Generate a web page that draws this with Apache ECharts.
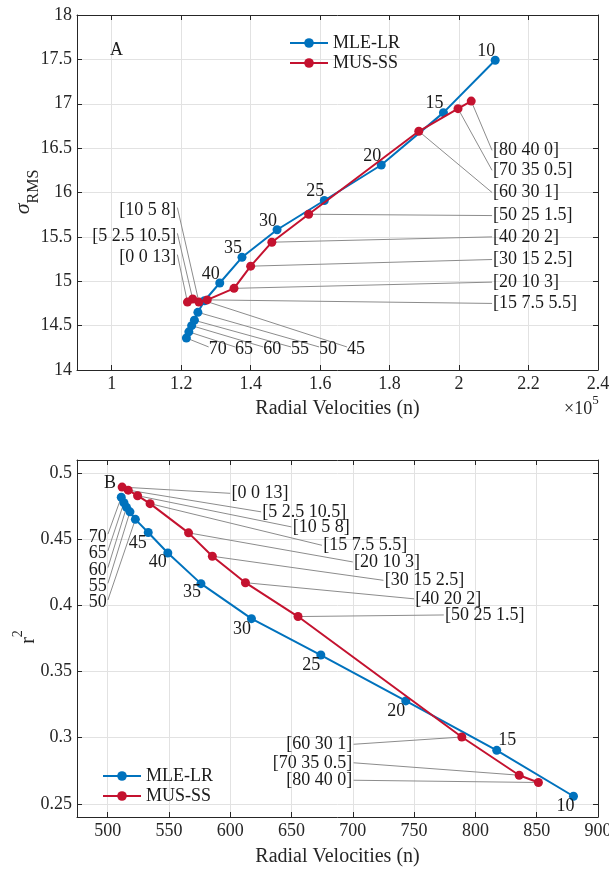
<!DOCTYPE html>
<html><head><meta charset="utf-8">
<script src="https://cdn.jsdelivr.net/npm/echarts@6/dist/echarts.min.js"></script>
<style>html,body{margin:0;padding:0;background:#fff}#c{width:609px;height:869px}</style>
</head><body><div id="c"></div>
<script>
const FONT = "'Liberation Serif', 'Times New Roman', serif";
const BLUE = '#0072BD';
const RED = '#C4122F';
const INK = '#262626';

// ---------- Data ----------
const mleLabels = ['10','15','20','25','30','35','40','45','50','55','60','65','70'];
const musLabels = ['[80 40 0]','[70 35 0.5]','[60 30 1]','[50 25 1.5]','[40 20 2]','[30 15 2.5]','[20 10 3]','[15 7.5 5.5]','[10 5 8]','[5 2.5 10.5]','[0 0 13]'];

// Panel A: sigma_RMS vs radial velocities (n)
const aMleX = [210400,195500,177600,161200,147600,137500,131100,126700,124800,123800,123000,122200,121500];
const aMleY = [17.49,16.90,16.31,15.91,15.58,15.27,14.98,14.78,14.65,14.56,14.50,14.43,14.36];
const aMusX = [203500,199700,188400,156700,146100,140000,135200,127500,125100,123300,121800];
const aMusY = [17.03,16.945,16.69,15.755,15.44,15.17,14.92,14.79,14.765,14.80,14.765];

// Panel B: r^2 vs radial velocities (n)
const bMleX = [880.0,817.4,743.2,673.9,617.3,576.1,549.1,533.1,522.6,518.2,515.4,513.3,511.1];
const bMleY = [0.2557,0.2904,0.3278,0.3625,0.3900,0.4165,0.4397,0.4552,0.4651,0.4708,0.4742,0.4777,0.4818];
const bMusX = [851.4,835.7,788.9,655.3,612.4,585.4,566.0,534.6,524.4,516.8,511.8];
const bMusY = [0.2661,0.2716,0.3005,0.3916,0.4172,0.4372,0.4549,0.4770,0.4830,0.4872,0.4895];

// Axis ranges
const aXRange = [90000, 240000];
const aYRange = [14, 18];
const bXRange = [475, 900];
const bYRange = [0.24, 0.51];

// Annotation anchors (data units)
const aRightTextX = 209800;
const aRightTextY = [16.475,16.25,16.0,15.74,15.5,15.245,14.99,14.75];
const aLeftTextX = 118600;
const aLeftTextY = [15.80,15.51,15.27];
const aNumTextX = [167700,159700,151600,143600,135500,127900]; // labels 45..70
const aNumTextY = 14.23;

const bRightTextX = [775.2,751,726,701,675.8,651,626.2,601];
const bRightTextY = [0.3928,0.405,0.419,0.4329,0.4455,0.4594,0.4708,0.4848];
const bLeftTextX = 699.6;
const bLeftTextY = [0.2678,0.281,0.295];
const bNumTextX = 499.2;
const bNumTextY = [0.4021,0.4147,0.4266,0.4393,0.4519]; // 50..70

// ---------- Build ----------
const pts = (xs, ys) => xs.map((x, i) => [x, ys[i]]);

function leaderSeries(xi, yi, segs) {
  return {
    type: 'custom', xAxisIndex: xi, yAxisIndex: yi, clip: false, silent: true, z: 1,
    data: segs,
    renderItem: (params, api) => {
      const p1 = api.coord([api.value(0), api.value(1)]);
      const p2 = api.coord([api.value(2), api.value(3)]);
      return { type: 'line', shape: {x1:p1[0], y1:p1[1], x2:p2[0], y2:p2[1]},
        style: { stroke: '#8c8c8c', lineWidth: 1 } };
    }
  };
}
function textSeries(xi, yi, items, align) {
  const texts = items.map(d => d[2]);
  return {
    type: 'custom', xAxisIndex: xi, yAxisIndex: yi, clip: false, silent: true, z: 5,
    data: items.map((d, i) => [d[0], d[1], i]),
    renderItem: (params, api) => {
      const p = api.coord([api.value(0), api.value(1)]);
      return { type: 'text', x: p[0], y: p[1],
        style: { text: texts[api.value(2)], fontFamily: FONT, fontSize: 18, fill: '#1a1a1a',
                 align: align, verticalAlign: 'middle' } };
    }
  };
}

const aSegs = [];
for (let i = 0; i < 8; i++) aSegs.push([aMusX[i], aMusY[i], aRightTextX - 300, aRightTextY[i]]);
for (let j = 0; j < 3; j++) aSegs.push([aMusX[8 + j], aMusY[8 + j], aLeftTextX + 300, aLeftTextY[j] + 0.03]);
for (let k = 0; k < 6; k++) aSegs.push([aMleX[7 + k], aMleY[7 + k], aNumTextX[k], aNumTextY + 0.03]);
const aTextR = aRightTextY.map((y, i) => [aRightTextX, y, musLabels[i]]);
const aTextL = aLeftTextY.map((y, j) => [aLeftTextX, y, musLabels[8 + j]]);
const aTextN = aNumTextX.map((x, k) => [x, aNumTextY, mleLabels[7 + k]]);
aTextN.push([99500, 17.60, 'A']);

const bSegs = [];
for (let i = 0; i < 8; i++) bSegs.push([bMusX[3 + i], bMusY[3 + i], bRightTextX[i] - 1, bRightTextY[i]]);
for (let j = 0; j < 3; j++) bSegs.push([bMusX[j], bMusY[j], bLeftTextX + 1, bLeftTextY[j]]);
for (let k = 0; k < 5; k++) bSegs.push([bMleX[8 + k], bMleY[8 + k], bNumTextX + 1, bNumTextY[k] + 0.002]);
const bTextR = bRightTextX.map((x, i) => [x, bRightTextY[i], musLabels[3 + i]]);
const bTextL = bLeftTextY.map((y, j) => [bLeftTextX, y, musLabels[j]]);
const bTextN = bNumTextY.map((y, k) => [bNumTextX, y, mleLabels[8 + k]]);
const bTextC = [[502, 0.4924, 'B']];

const aMleData = pts(aMleX, aMleY).map((v, i) => i < 7 ? {
  value: v, label: { show: true, formatter: mleLabels[i], position: 'inside', offset: [-9, -9],
    fontFamily: FONT, fontSize: 18, color: '#1a1a1a' } } : { value: v });
const bOffsets = [[-8,10.5],[10.5,-10],[-9.5,10.5],[-9.5,10.5],[-9.5,10.5],[-9,9],[-10,9],[-10.5,11]];
const bMleData = pts(bMleX, bMleY).map((v, i) => i < 8 ? {
  value: v, label: { show: true, formatter: mleLabels[i], position: 'inside', offset: bOffsets[i],
    fontFamily: FONT, fontSize: 18, color: '#1a1a1a' } } : { value: v });

function lineSeries(name, color, data, xi, yi, z) {
  return { name, type: 'line', xAxisIndex: xi, yAxisIndex: yi, data, z,
    symbol: 'circle', symbolSize: 9, showAllSymbol: true,
    itemStyle: { color }, lineStyle: { color, width: 2 }, emphasis: { disabled: true } };
}

const labelStyle = { fontFamily: FONT, fontSize: 18, color: INK };
function mainX(grid, range, splitNumber, fmt, gap) {
  return { gridIndex: grid, type: 'value', position: 'bottom', min: range[0], max: range[1], splitNumber,
    axisLine: { show: true, onZero: false, lineStyle: { color: INK, width: 1 } },
    axisTick: { show: true, inside: true, length: 5, lineStyle: { color: INK } },
    axisLabel: Object.assign({ show: true, showMinLabel: false, showMaxLabel: true, formatter: fmt, margin: 5 }, labelStyle),
    splitLine: { show: true, lineStyle: { color: '#e2e2e2', width: 1 } },
    name: 'Radial Velocities (n)', nameLocation: 'middle', nameGap: gap, nameMoveOverlap: false,
    nameTextStyle: { fontFamily: FONT, fontSize: 20, color: INK } };
}
function boxX(grid, range, splitNumber) {
  return { gridIndex: grid, type: 'value', position: 'top', min: range[0], max: range[1], splitNumber,
    axisLine: { show: true, onZero: false, lineStyle: { color: INK, width: 1 } },
    axisTick: { show: true, inside: true, length: 5, lineStyle: { color: INK } },
    axisLabel: { show: false }, splitLine: { show: false } };
}
function mainY(grid, range, opts) {
  return Object.assign({ gridIndex: grid, type: 'value', position: 'left', min: range[0], max: range[1],
    axisLine: { show: true, onZero: false, lineStyle: { color: INK, width: 1 } },
    axisTick: { show: true, inside: true, length: 5, lineStyle: { color: INK } },
    axisLabel: Object.assign({ show: true, margin: 5 }, labelStyle),
    splitLine: { show: true, lineStyle: { color: '#e2e2e2', width: 1 } } }, opts);
}
function boxY(grid, range, opts) {
  return Object.assign({ gridIndex: grid, type: 'value', position: 'right', min: range[0], max: range[1],
    axisLine: { show: true, onZero: false, lineStyle: { color: INK, width: 1 } },
    axisTick: { show: true, inside: true, length: 5, lineStyle: { color: INK } },
    axisLabel: { show: false }, splitLine: { show: false } }, opts);
}

const chart = echarts.init(document.getElementById('c'), null, { renderer: 'canvas' });
const option = {
  animation: false,
  backgroundColor: '#fff',
  textStyle: { fontFamily: FONT },
  grid: [
    { left: 77, top: 15, width: 521, height: 355, containLabel: false, outerBoundsMode: 'none' },
    { left: 77, top: 460, width: 521, height: 357, containLabel: false, outerBoundsMode: 'none' }
  ],
  legend: [
    { data: ['MLE-LR', 'MUS-SS'], orient: 'vertical', left: 284, top: 29, itemWidth: 38, itemHeight: 12,
      itemGap: 2, selectedMode: false, textStyle: { fontFamily: FONT, fontSize: 18, color: '#1a1a1a' } },
    { data: ['MLE-LR', 'MUS-SS'], orient: 'vertical', left: 97, top: 762, itemWidth: 38, itemHeight: 12,
      itemGap: 2, selectedMode: false, textStyle: { fontFamily: FONT, fontSize: 18, color: '#1a1a1a' } }
  ],
  xAxis: [
    mainX(0, aXRange, 7, v => String(+(v / 1e5).toFixed(2)), 29),
    boxX(0, aXRange, 7),
    mainX(1, bXRange, 8, v => String(v), 30),
    boxX(1, bXRange, 8)
  ],
  yAxis: [
    mainY(0, aYRange, { interval: 0.5 }),
    boxY(0, aYRange, { interval: 0.5 }),
    mainY(1, bYRange, { splitNumber: 5,
      axisLabel: Object.assign({ show: true, margin: 5, showMinLabel: false, showMaxLabel: false }, labelStyle) }),
    boxY(1, bYRange, { splitNumber: 5 })
  ],
  graphic: [
    { type: 'text', left: 564, top: 394, silent: true,
      style: { text: '{a|×10}{b|5}', rich: {
        a: { fontFamily: FONT, fontSize: 18, fill: INK, verticalAlign: 'bottom', lineHeight: 24 },
        b: { fontFamily: FONT, fontSize: 13, fill: INK, verticalAlign: 'top', lineHeight: 24 } } } },
    { type: 'text', x: 27, y: 192, rotation: Math.PI / 2, silent: true,
      style: { text: '{s|σ}{b|RMS}', align: 'center', verticalAlign: 'middle', rich: {
        s: { fontFamily: FONT, fontSize: 22, fontStyle: 'italic', fill: INK, verticalAlign: 'top', lineHeight: 30 },
        b: { fontFamily: FONT, fontSize: 16, fill: INK, verticalAlign: 'bottom', lineHeight: 30 } } } },
    { type: 'text', x: 25, y: 637, rotation: Math.PI / 2, silent: true,
      style: { text: '{r|r}{p|2}', align: 'center', verticalAlign: 'middle', rich: {
        r: { fontFamily: FONT, fontSize: 20, fill: INK, verticalAlign: 'bottom', lineHeight: 28 },
        p: { fontFamily: FONT, fontSize: 14, fill: INK, verticalAlign: 'top', lineHeight: 28 } } } }
  ],
  series: [
    leaderSeries(0, 0, aSegs),
    lineSeries('MLE-LR', BLUE, aMleData, 0, 0, 2),
    lineSeries('MUS-SS', RED, pts(aMusX, aMusY), 0, 0, 3),
    textSeries(0, 0, aTextR, 'left'),
    textSeries(0, 0, aTextL, 'right'),
    textSeries(0, 0, aTextN, 'left'),
    leaderSeries(2, 2, bSegs),
    lineSeries('MLE-LR', BLUE, bMleData, 2, 2, 2),
    lineSeries('MUS-SS', RED, pts(bMusX, bMusY), 2, 2, 3),
    textSeries(2, 2, bTextR, 'left'),
    textSeries(2, 2, bTextL, 'right'),
    textSeries(2, 2, bTextN, 'right'),
    textSeries(2, 2, bTextC, 'center')
  ]
};
chart.setOption(option);
</script>
</body></html>
